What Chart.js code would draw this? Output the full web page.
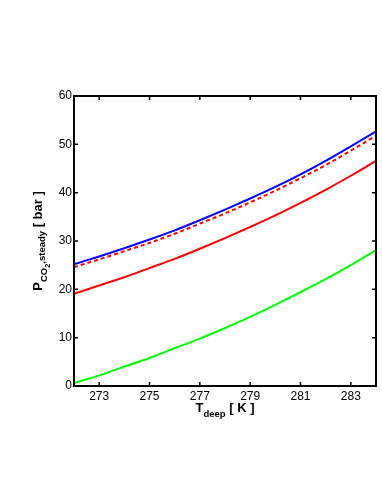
<!DOCTYPE html>
<html>
<head>
<meta charset="utf-8">
<script src="https://cdn.jsdelivr.net/npm/chart.js@4/dist/chart.umd.min.js"></script>
<style>
html,body{margin:0;padding:0;background:#fff;}
#c{display:block;}
</style>
</head>
<body>
<canvas id="c" width="382" height="494"></canvas>
<script>
const temps = [272, 273, 274, 275, 276, 277, 278, 279, 280, 281, 282, 283, 284];
const blueVals = [25.2, 26.8, 28.5, 30.3, 32.2, 34.3, 36.5, 38.8, 41.2, 43.8, 46.6, 49.6, 52.7];
const redDashVals = [24.6, 26.2, 27.9, 29.6, 31.5, 33.6, 35.7, 38.0, 40.4, 43.0, 45.7, 48.7, 51.8];
const redVals = [19.1, 20.8, 22.5, 24.4, 26.3, 28.4, 30.6, 32.9, 35.3, 37.9, 40.6, 43.5, 46.6];
const greenVals = [0.6, 2.2, 4.0, 5.8, 7.8, 9.8, 12.0, 14.3, 16.8, 19.4, 22.1, 25.0, 28.1];
const xTickVals = [273, 275, 277, 279, 281, 283];
const yTickVals = [0, 10, 20, 30, 40, 50, 60];

const toPts = arr => arr.map((v, i) => ({x: temps[i], y: v}));

const framePlugin = {
  id: 'frame',
  afterDraw(chart) {
    const ctx = chart.ctx;
    const a = chart.chartArea;
    const xs = chart.scales.x, ys = chart.scales.y;
    ctx.save();
    ctx.strokeStyle = '#000';
    ctx.lineWidth = 2;
    ctx.strokeRect(a.left, a.top, a.right - a.left, a.bottom - a.top);
    ctx.lineWidth = 1.5;
    const tl = 4;
    ctx.beginPath();
    xTickVals.forEach(v => {
      const px = xs.getPixelForValue(v);
      ctx.moveTo(px, a.bottom); ctx.lineTo(px, a.bottom - tl);
      ctx.moveTo(px, a.top); ctx.lineTo(px, a.top + tl);
    });
    yTickVals.forEach(v => {
      const py = ys.getPixelForValue(v);
      ctx.moveTo(a.left, py); ctx.lineTo(a.left + tl, py);
      ctx.moveTo(a.right, py); ctx.lineTo(a.right - tl, py);
    });
    ctx.stroke();

    // titles
    const fam = '"Liberation Sans", Arial, Helvetica, sans-serif';
    const big = 'bold 13px ' + fam;
    const sub = 'bold 9.5px ' + fam;
    const subsub = 'bold 7.5px ' + fam;
    ctx.fillStyle = '#000';
    ctx.textBaseline = 'alphabetic';
    ctx.textAlign = 'left';

    // x title: T_deep [ K ]
    const xParts = [
      {t: 'T', f: big, dy: 0},
      {t: 'deep', f: sub, dy: 5},
      {t: ' [ K ]', f: big, dy: 0}
    ];
    let w = 0;
    xParts.forEach(p => { ctx.font = p.f; p.w = ctx.measureText(p.t).width; w += p.w; });
    let cx = (a.left + a.right) / 2 - w / 2;
    const by = 412;
    xParts.forEach(p => { ctx.font = p.f; ctx.fillText(p.t, cx, by + p.dy); cx += p.w; });

    // y title: P_CO2,steady [ bar ]
    const yParts = [
      {t: 'P', f: big, dy: 0},
      {t: 'CO', f: sub, dy: 5},
      {t: '2', f: subsub, dy: 7.5},
      {t: ',steady', f: sub, dy: 3},
      {t: ' [ bar ]', f: big, dy: 0}
    ];
    w = 0;
    yParts.forEach(p => { ctx.font = p.f; p.w = ctx.measureText(p.t).width; w += p.w; });
    ctx.translate(42, (a.top + a.bottom) / 2);
    ctx.rotate(-Math.PI / 2);
    cx = -w / 2;
    yParts.forEach(p => { ctx.font = p.f; ctx.fillText(p.t, cx, p.dy); cx += p.w; });
    ctx.restore();
  }
};

const lineDs = (label, vals, color, dash) => ({
  label, data: toPts(vals), borderColor: color, backgroundColor: color,
  borderWidth: 2, borderDash: dash || [], pointRadius: 0, fill: false,
  cubicInterpolationMode: 'monotone'
});

new Chart(document.getElementById('c'), {
  type: 'line',
  data: {
    datasets: [
      lineDs('green', greenVals, '#00ff00'),
      lineDs('red', redVals, '#ff0000'),
      lineDs('red dashed', redDashVals, '#ff0000', [4, 3]),
      lineDs('blue', blueVals, '#0000ff')
    ]
  },
  options: {
    responsive: false,
    devicePixelRatio: 1,
    animation: false,
    layout: {padding: {top: 96, right: 6, left: 0, bottom: 0}},
    plugins: {legend: {display: false}, tooltip: {enabled: false}},
    scales: {
      x: {
        type: 'linear', min: 272, max: 284,
        afterBuildTicks: s => { s.ticks = xTickVals.map(v => ({value: v})); },
        afterFit: s => { s.height = 108; },
        grid: {display: false, drawTicks: false},
        border: {display: false},
        ticks: {color: '#000', padding: 3, maxRotation: 0,
          font: {size: 12, family: '"Liberation Sans", Arial, Helvetica, sans-serif'},
          callback: v => String(v)}
      },
      y: {
        type: 'linear', min: 0, max: 60,
        afterBuildTicks: s => { s.ticks = yTickVals.map(v => ({value: v})); },
        afterFit: s => { s.width = 74; },
        grid: {display: false, drawTicks: false},
        border: {display: false},
        ticks: {color: '#000', padding: 2,
          font: {size: 12, family: '"Liberation Sans", Arial, Helvetica, sans-serif'},
          callback: v => String(v)}
      }
    }
  },
  plugins: [framePlugin]
});
</script>
</body>
</html>
